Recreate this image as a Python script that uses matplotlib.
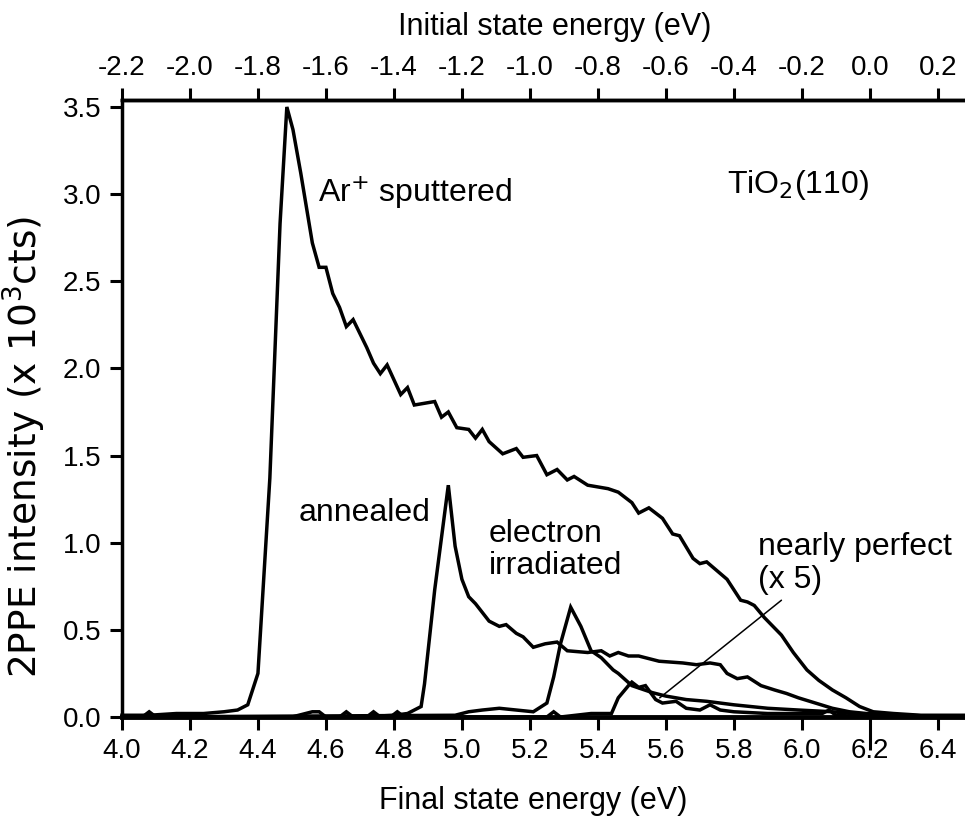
import numpy as np
import matplotlib
matplotlib.use("Agg")
import matplotlib.pyplot as plt

plt.rcParams['font.family'] = ['Liberation Sans', 'DejaVu Sans']

# Ar+ sputtered surface
sput_e = [4.00, 4.08, 4.16, 4.24, 4.30, 4.34, 4.37, 4.40, 4.435, 4.465, 4.485,
          4.503, 4.526, 4.56, 4.58, 4.60, 4.62, 4.64, 4.66, 4.68, 4.72, 4.74,
          4.76, 4.78, 4.82, 4.84, 4.86, 4.92, 4.94, 4.96, 4.985, 5.02, 5.04,
          5.06, 5.08, 5.12, 5.16, 5.18, 5.22, 5.25, 5.28, 5.31, 5.33, 5.37,
          5.43, 5.46, 5.50, 5.52, 5.55, 5.59, 5.62, 5.64, 5.68, 5.70, 5.72,
          5.78, 5.82, 5.84, 5.86, 5.89, 5.92, 5.94, 5.975, 6.015, 6.05, 6.09,
          6.13, 6.17, 6.21, 6.27, 6.35, 6.48]
sput_i = [0.01, 0.01, 0.02, 0.02, 0.03, 0.04, 0.07, 0.25, 1.37, 2.83, 3.50,
          3.37, 3.12, 2.72, 2.58, 2.58, 2.43, 2.35, 2.24, 2.28, 2.12, 2.03,
          1.97, 2.02, 1.85, 1.89, 1.79, 1.81, 1.72, 1.75, 1.66, 1.65, 1.60,
          1.65, 1.58, 1.51, 1.54, 1.49, 1.50, 1.39, 1.42, 1.36, 1.38, 1.33,
          1.31, 1.29, 1.23, 1.17, 1.20, 1.14, 1.05, 1.04, 0.91, 0.88, 0.89,
          0.79, 0.67, 0.66, 0.64, 0.57, 0.51, 0.47, 0.37, 0.27, 0.21, 0.155,
          0.11, 0.06, 0.03, 0.02, 0.01, 0.01]

# annealed surface
anne_e = [4.00, 4.50, 4.56, 4.58, 4.60, 4.70, 4.80, 4.84, 4.88, 4.89, 4.92,
          4.96, 4.98, 5.00, 5.02, 5.04, 5.08, 5.11, 5.13, 5.16, 5.18, 5.21,
          5.245, 5.28, 5.31, 5.37, 5.41, 5.435, 5.46, 5.49, 5.52, 5.58, 5.65,
          5.69, 5.73, 5.76, 5.78, 5.81, 5.84, 5.88, 5.92, 5.955, 5.99, 6.04,
          6.09, 6.14, 6.19, 6.30, 6.48]
anne_i = [0.0, 0.0, 0.03, 0.03, 0.0, 0.0, 0.01, 0.02, 0.06, 0.19, 0.73,
          1.33, 0.98, 0.79, 0.69, 0.65, 0.55, 0.52, 0.53, 0.48, 0.46, 0.40,
          0.42, 0.43, 0.38, 0.37, 0.38, 0.35, 0.37, 0.35, 0.35, 0.32, 0.31,
          0.30, 0.31, 0.30, 0.25, 0.22, 0.23, 0.18, 0.155, 0.135, 0.11, 0.08,
          0.05, 0.03, 0.02, 0.01, 0.0]

# electron irradiated surface
elec_e = [4.00, 4.98, 5.02, 5.06, 5.11, 5.16, 5.21, 5.25, 5.27, 5.29, 5.32,
          5.35, 5.38, 5.41, 5.445, 5.46, 5.50, 5.56, 5.60, 5.66, 5.72, 5.80,
          5.90, 5.99, 6.09, 6.20, 6.48]
elec_i = [0.0, 0.01, 0.03, 0.04, 0.05, 0.04, 0.03, 0.08, 0.23, 0.42, 0.63,
          0.52, 0.38, 0.34, 0.27, 0.25, 0.18, 0.14, 0.12, 0.10, 0.09, 0.07,
          0.05, 0.04, 0.03, 0.01, 0.0]

# nearly perfect surface (x 5)
perf_e = [4.00, 4.06, 4.08, 4.10, 4.64, 4.66, 4.68, 4.72, 4.74, 4.76, 4.79,
          4.81, 4.83, 5.25, 5.27, 5.29, 5.38, 5.44, 5.46, 5.49, 5.50, 5.52,
          5.54, 5.57, 5.59, 5.63, 5.66, 5.70, 5.73, 5.76, 5.80, 5.90, 6.00,
          6.06, 6.08, 6.10, 6.20, 6.48]
perf_i = [0.0, 0.0, 0.03, 0.0, 0.0, 0.03, 0.0, 0.0, 0.03, 0.0, 0.0,
          0.03, 0.0, 0.0, 0.03, 0.0, 0.02, 0.02, 0.11, 0.18, 0.20, 0.17,
          0.18, 0.10, 0.08, 0.09, 0.05, 0.04, 0.07, 0.04, 0.03, 0.02, 0.02,
          0.02, 0.04, 0.01, 0.0, 0.0]

x_ticks = np.round(np.arange(4.0, 6.41, 0.2), 1)
top_ticks = np.round(np.arange(-2.2, 0.21, 0.2), 1)
y_ticks = np.round(np.arange(0.0, 3.51, 0.5), 1)
photon = 6.2

fig = plt.figure(figsize=(9.65, 8.17), dpi=100)
ax = fig.add_axes([0.1264, 0.1224, 0.8736, 0.7552])

for e, i in [(sput_e, sput_i), (anne_e, anne_i), (elec_e, elec_i), (perf_e, perf_i)]:
    ax.plot(e, i, color='black', lw=2.5, solid_joinstyle='miter', clip_on=False)

ax.set_xlim(4.0, 6.48)
ax.set_ylim(0.0, 3.54)

ax.set_xticks(x_ticks)
ax.set_xticklabels([f'{v:.1f}' for v in x_ticks])
ax.set_yticks(y_ticks)
ax.set_yticklabels([f'{v:.1f}' for v in y_ticks])
ax.tick_params(axis='both', direction='out', length=9, width=2.2, labelsize=20, pad=6)
# the 6.2 tick is drawn longer
for t, v in zip(ax.xaxis.get_major_ticks(), x_ticks):
    if abs(v - photon) < 1e-6:
        t.tick1line.set_markersize(24)

for side in ['left', 'bottom', 'top']:
    ax.spines[side].set_linewidth(2.5)
ax.spines['bottom'].set_linewidth(3.5)
ax.spines['right'].set_visible(False)

top = ax.secondary_xaxis('top', functions=(lambda x: x - photon, lambda x: x + photon))
top.set_xticks(top_ticks)
top.set_xticklabels([f'{v:.1f}' for v in top_ticks])
top.tick_params(direction='out', length=9, width=2.2, labelsize=20, pad=5)
top.spines['top'].set_linewidth(2.5)
top.set_xlabel('Initial state energy (eV)', fontsize=22, labelpad=14, x=0.513)

ax.set_xlabel('Final state energy (eV)', fontsize=22, labelpad=16, x=0.488)
ax.set_ylabel('2PPE intensity (x 10$^3$cts)', fontsize=27, family='DejaVu Sans')
ax.yaxis.set_label_coords(-0.088, 0.438)

fs = 23
ax.text(4.576, 3.01, 'Ar$^{+}$ sputtered', fontsize=fs, va='center')
ax.text(5.78, 3.05, 'TiO$_2$(110)', fontsize=fs, va='center')
ax.text(4.52, 1.17, 'annealed', fontsize=fs, va='center')
ax.text(5.08, 0.96, 'electron\nirradiated', fontsize=fs, va='center', linespacing=1.1)
ax.text(5.87, 0.88, 'nearly perfect\n(x 5)', fontsize=fs, va='center', linespacing=1.1)
ax.annotate('', xy=(5.582, 0.11), xytext=(5.94, 0.67),
            arrowprops=dict(arrowstyle='-', lw=1.1, color='black', shrinkA=0, shrinkB=0))

fig.savefig('out.png', dpi=100)
